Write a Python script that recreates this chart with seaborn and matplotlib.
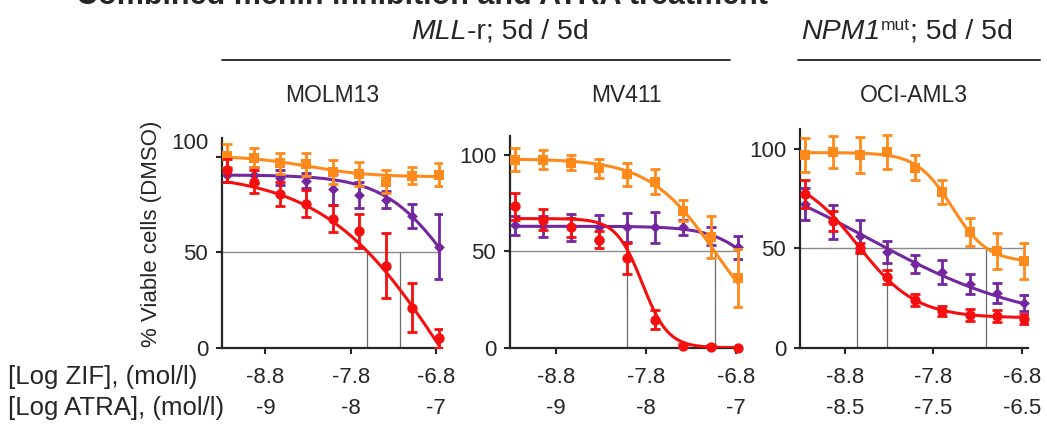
import numpy as np
import pandas as pd
import matplotlib
matplotlib.use('Agg')
import matplotlib.pyplot as plt
import matplotlib.transforms as mtransforms
import seaborn as sns

sns.set_style('ticks')
plt.rcParams['font.family'] = ['Liberation Sans', 'DejaVu Sans']

# doses (log mol/l of ZIF), same for the three cell lines
log_zif = [-9.25, -8.94, -8.63, -8.32, -8.01, -7.70, -7.39, -7.08, -6.77]

cell_lines = ['MOLM13', 'MV411', 'OCI-AML3']
zif_ticks = [-8.8, -7.8, -6.8]
zif_labels = ['-8.8', '-7.8', '-6.8']
atra_labels = [['-9', '-8', '-7'], ['-9', '-8', '-7'], ['-8.5', '-7.5', '-6.5']]

# mean % viable cells and error, per cell line
orange_mean = [[100.5, 99.5, 96.5, 96, 92, 91, 87, 90, 90.5],
               [97.5, 97.5, 96, 93, 90, 86, 71, 57.5, 36],
               [97, 98.5, 97, 98.5, 90.5, 78, 58, 48.5, 43.5]]
orange_err = [[6, 5, 5.5, 6, 6.5, 6.5, 6, 4.5, 6],
              [6, 5, 4, 5, 6, 6.5, 5.5, 11, 15],
              [8.5, 8, 9, 8.5, 6.5, 6, 7, 9, 9]]
purple_mean = [[90.5, 90.5, 89, 87.5, 83, 80, 77.5, 69, 53],
               [63.5, 63, 62.5, 62.5, 62.5, 62.5, 62.5, 58, 52],
               [72, 63, 56, 48, 42, 38, 32, 27.5, 22.5]]
purple_err = [[3.5, 4, 4, 4, 8, 7, 4.5, 6.5, 17],
              [5, 5.5, 7, 6.5, 7.5, 8, 4, 4.5, 6],
              [8, 8.5, 8, 5.5, 4.5, 6, 5, 5, 4]]
red_mean = [[93, 87, 80.5, 75.5, 67.5, 61, 43, 21, 5],
            [73.5, 66.5, 62.5, 56, 46.5, 14.5, 1, 0.5, 0],
            [77, 63.5, 50, 35.5, 24, 18.5, 16.5, 16, 14.5]]
red_err = [[6, 6, 6.5, 7, 7, 9, 17, 13, 5],
           [7, 5.5, 5, 4.5, 8, 5, 1, 1, 0.5],
           [7, 5, 2.5, 3.5, 3, 2.5, 3, 3, 2.5]]

# fitted dose-response curves: top, bottom, log EC50, hill slope
orange_fit = [(100.5, 89.5, -8.3, 1.2), (98, 0, -7.02, 1.17), (98, 43, -7.587, 2.16)]
purple_fit = [(90.5, 0, -6.64, 1.13), (63, 0, -6.38, 1.6), (100, 10, -8.541, 0.459)]
red_fit = [(92, -100, -6.688, 0.609), (67, 0, -7.84, 3.0), (88, 15, -8.657, 1.317)]

# drop lines at 50 %
ic50_lines = [[-7.61, -7.22], [-8.01, -7.03], [-8.66, -8.32, -7.2]]

ORANGE = '#FF8A1C'
PURPLE = '#7426A0'
RED = '#F50F0F'

W, H = 1047, 424
fig = plt.figure(figsize=(W / 100, H / 100), dpi=100)

# axes boxes in pixels: left, width, height
boxes = [(222, 220, 210), (510, 232, 212), (800, 228, 219)]
bottom_px = 347.7


def four_pl(x, top, bottom, c, h):
    return bottom + (top - bottom) / (1 + 10 ** ((x - c) * h))


for i, name in enumerate(cell_lines):
    lpx, wpx, hpx = boxes[i]
    ax = fig.add_axes([lpx / W, 1 - bottom_px / H, wpx / W, hpx / H])
    xmin, xmax = -9.31, -6.73
    ax.set_xlim(xmin, xmax)
    ax.set_ylim(0, 110)

    ax.hlines(50, xmin, log_zif[-1], color='#8a8a8a', lw=1, zorder=1)
    ax.vlines(ic50_lines[i], 0, 50, color='#6a6a6a', lw=0.9, zorder=1)

    xs = np.linspace(log_zif[0], log_zif[-1], 200)
    series = [(purple_mean, purple_err, purple_fit, PURPLE, 'D', 30),
              (orange_mean, orange_err, orange_fit, ORANGE, 's', 55),
              (red_mean, red_err, red_fit, RED, 'o', 55)]
    for z, (mean, err, fit, col, mk, ms) in enumerate(series):
        df = pd.DataFrame({'dose': log_zif, 'viab': mean[i], 'err': err[i]})
        curve = pd.DataFrame({'dose': xs, 'viab': four_pl(xs, *fit[i])})
        sns.lineplot(data=curve, x='dose', y='viab', color=col, lw=2.2, ax=ax, zorder=3 + z)
        ax.errorbar(df['dose'], df['viab'], yerr=df['err'], fmt='none', ecolor=col,
                    elinewidth=2, capsize=3.5, capthick=2, zorder=3 + z)
        sns.scatterplot(data=df, x='dose', y='viab', color=col, marker=mk, s=ms,
                        edgecolor=col, linewidth=0, ax=ax, zorder=3 + z, clip_on=False)

    sns.despine(ax=ax)
    for sp in ['left', 'bottom']:
        ax.spines[sp].set_linewidth(1.6)
    ax.set_yticks([0, 50, 100])
    ax.set_xticks(zif_ticks)
    ax.set_xticklabels([f'{a}\n{b}' for a, b in zip(zif_labels, atra_labels[i])],
                       linespacing=1.6)
    ax.tick_params(axis='both', labelsize=16, length=4, width=1.5, direction='out')
    ax.tick_params(axis='y', pad=6)
    ax.tick_params(axis='x', pad=10)
    ax.set_xlabel('')
    ax.set_ylabel('')
    if i == 0:
        # the "100" label sits a little above its tick in the first panel
        lab = ax.get_yticklabels()[2]
        lab.set_transform(lab.get_transform() +
                          mtransforms.ScaledTranslation(0, 0.16, fig.dpi_scale_trans))

    fig.text((lpx + wpx / 2) / W, 1 - 95 / H, name, ha='center', va='center', fontsize=16.5)

fig.text(152 / W, 1 - 234 / H, '% Viable cells (DMSO)', rotation=90,
         ha='center', va='center', fontsize=16)
fig.text(8 / W, 1 - 377 / H, '[Log ZIF], (mol/l)', ha='left', va='center', fontsize=18.5)
fig.text(8 / W, 1 - 408 / H, '[Log ATRA], (mol/l)', ha='left', va='center', fontsize=18.5)


def header(pieces, cx, base_px):
    # place pieces of text one after another, centred on cx
    r = fig.canvas.get_renderer()
    objs = [fig.text(0, 0, txt, ha='left', va='baseline', **kw) for txt, kw, dy in pieces]
    widths = [t.get_window_extent(r).width for t in objs]
    x = cx - sum(widths) / 2
    for t, w, (txt, kw, dy) in zip(objs, widths, pieces):
        t.set_position((x / W, 1 - (base_px - dy) / H))
        x += w


header([('MLL', dict(fontsize=20.5, style='italic'), 0),
        ('-r; 5d / 5d', dict(fontsize=20.5), 0)], 500, 39)
header([('NPM1', dict(fontsize=20.5, style='italic'), 0),
        ('mut', dict(fontsize=12.5), 9),
        ('; 5d / 5d', dict(fontsize=20.5), 0)], 907, 39)
fig.add_artist(plt.Line2D([222 / W, 730 / W], [1 - 60 / H] * 2, color='#333333', lw=1.4))
fig.add_artist(plt.Line2D([798 / W, 1040 / W], [1 - 60 / H] * 2, color='#333333', lw=1.4))

fig.text(76 / W, 1 - 4 / H, 'Combined menin inhibition and ATRA treatment',
         ha='left', va='baseline', fontsize=22, fontweight='bold')

fig.savefig('out.png', dpi=100)
